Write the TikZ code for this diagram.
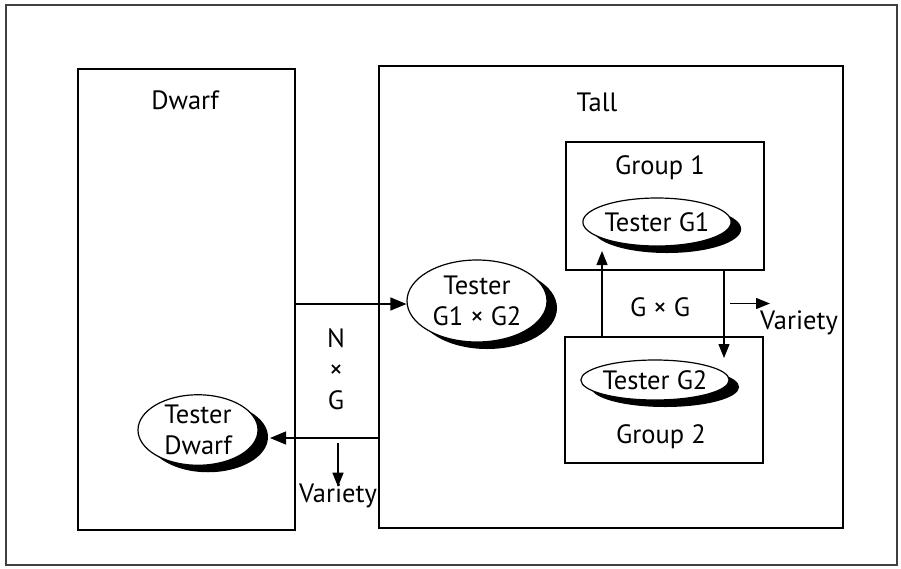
\documentclass[tikz,border=0pt]{standalone}
\usepackage{fontspec}
\setmainfont{PT Sans}
\usetikzlibrary{shapes.geometric,arrows.meta,shadows}
\begin{document}
\begin{tikzpicture}[x=1pt,y=-1pt,
  every node/.style={font=\fontsize{26.5}{31}\selectfont},
  boxnode/.style={draw, line width=1.3pt, inner sep=0pt},
  tester/.style={ellipse, draw, fill=white, line width=1.2pt, inner sep=0pt, align=center,
    drop shadow={shadow xshift=10pt, shadow yshift=-7pt, fill=black, opacity=1}},
  arr/.style={line width=1.3pt, -{Triangle[length=16pt,width=13pt]}},
  varr/.style={line width=1.3pt, -{Triangle[length=14pt,width=11pt]}},
  lbl/.style={inner sep=0pt}
]
\useasboundingbox (0,0) rectangle (901,568);
\draw[line width=1.6pt, black!75] (6,5) rectangle (897,565);

% boxes
\node[boxnode, minimum width=217pt, minimum height=461pt] (dwarf) at (186.5,299.5) {};
\node[boxnode, minimum width=464pt, minimum height=462pt] (tall) at (611,297) {};
\node[boxnode, minimum width=198pt, minimum height=128pt] (g1) at (665,206) {};
\node[boxnode, minimum width=198pt, minimum height=126pt] (g2) at (664,400) {};

% labels
\node[lbl] (ldwarf) at (185,100) {Dwarf};
\node[lbl] (ltall) at (597,102) {Tall};
\node[lbl] (lg1) at (660,168) {Group 1};
\node[lbl] (lg2) at (661,437) {Group 2};
\node[lbl] (gxg) at (660,307) {G × G};
\node[lbl, align=center] (nxg) at (336,369) {N\\×\\G};

% ellipses
\node[tester, minimum width=148pt, minimum height=48pt] (tg1) at (657,222) {Tester G1};
\node[tester, minimum width=146pt, minimum height=40pt] (tg2) at (655,380) {Tester G2};
\node[tester, minimum width=140pt, minimum height=82pt] (tgg) at (477,301) {Tester\\G1 × G2};
\node[tester, minimum width=120pt, minimum height=70pt] (td) at (198,430) {Tester\\Dwarf};

% variety labels
\node[lbl] (v1) at (338,496) {Variety};
\node[lbl] (v2) at (799,323) {Variety};

% coordinates
\coordinate (aIn) at (295,304);
\coordinate (aOut) at (379,438);
\coordinate (tdTip) at (270,438);
\coordinate (vdS) at (338,443);
\coordinate (upS) at (602,337);
\coordinate (upT) at (602,251);
\coordinate (dnS) at (724,270);
\coordinate (dnT) at (724,358);
\coordinate (vrS) at (730,303.5);
\coordinate (vrT) at (770,303.5);

% connectors
\draw[arr] (aIn) -- (aIn -| tgg.west);
\draw[arr] (aOut) -- (tdTip);
\draw[varr] (vdS) -- ([yshift=-3pt]v1.north);
\draw[varr] (upS) -- (upT);
\draw[varr] (dnS) -- (dnT);
\draw[varr] (vrS) -- (vrT);
\end{tikzpicture}
\end{document}
